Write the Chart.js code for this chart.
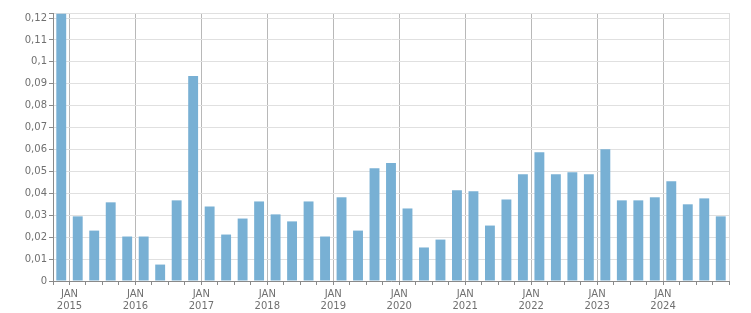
<!DOCTYPE html>
<html>
<head>
<meta charset="utf-8">
<script src="https://cdn.jsdelivr.net/npm/chart.js@4/dist/chart.umd.min.js"></script>
<style>
  html, body { margin: 0; padding: 0; background: #fff; }
  #wrap { width: 751px; height: 313px; position: relative; }
</style>
</head>
<body>
<div id="wrap"><canvas id="chart"></canvas></div>
<script>
const quarters = [
  "2014-Q4",
  "2015-Q1", "2015-Q2", "2015-Q3", "2015-Q4",
  "2016-Q1", "2016-Q2", "2016-Q3", "2016-Q4",
  "2017-Q1", "2017-Q2", "2017-Q3", "2017-Q4",
  "2018-Q1", "2018-Q2", "2018-Q3", "2018-Q4",
  "2019-Q1", "2019-Q2", "2019-Q3", "2019-Q4",
  "2020-Q1", "2020-Q2", "2020-Q3", "2020-Q4",
  "2021-Q1", "2021-Q2", "2021-Q3", "2021-Q4",
  "2022-Q1", "2022-Q2", "2022-Q3", "2022-Q4",
  "2023-Q1", "2023-Q2", "2023-Q3", "2023-Q4",
  "2024-Q1", "2024-Q2", "2024-Q3", "2024-Q4"
];

const values = [
  0.1220,
  0.0295, 0.0230, 0.0359, 0.0203,
  0.0203, 0.0075, 0.0368, 0.0936,
  0.0340, 0.0212, 0.0285, 0.0363,
  0.0304, 0.0272, 0.0363, 0.0203,
  0.0382, 0.0230, 0.0515, 0.0538,
  0.0331, 0.0153, 0.0189, 0.0414,
  0.0409, 0.0253, 0.0372, 0.0487,
  0.0588, 0.0487, 0.0496, 0.0487,
  0.0601, 0.0368, 0.0368, 0.0382,
  0.0455, 0.0350, 0.0377, 0.0295
];

// y tick values (hundredths) and the top of the scale
const yTicks = [0, 1, 2, 3, 4, 5, 6, 7, 8, 9, 10, 11, 12];
const yMax = 0.1223;
const monthLabel = "JAN";

const textColor = "#707070";
const font = { family: "'DejaVu Sans', Verdana, sans-serif", size: 10 };

const isYearStart = (i) => i !== undefined && quarters[i] && quarters[i].endsWith("Q1");

new Chart(document.getElementById("chart"), {
  type: "bar",
  data: {
    labels: quarters,
    datasets: [{
      data: values,
      backgroundColor: "#78b0d4",
      borderWidth: 0,
      barPercentage: 0.6,
      categoryPercentage: 1
    }]
  },
  options: {
    responsive: true,
    maintainAspectRatio: false,
    animation: false,
    layout: { padding: { top: 13, right: 22, left: 0, bottom: 0 } },
    plugins: {
      legend: { display: false },
      tooltip: { enabled: false }
    },
    scales: {
      x: {
        offset: true,
        grid: {
          offset: true,
          color: (ctx) => {
            if (ctx.index === undefined) return "#dddddd";
            return isYearStart(ctx.index) ? "#b8b8b8" : "rgba(0,0,0,0)";
          },
          tickColor: "#8a8a8a",
          tickLength: 4
        },
        border: { color: "#8a8a8a" },
        ticks: {
          autoSkip: false,
          maxRotation: 0,
          minRotation: 0,
          padding: 3,
          labelOffset: -8.24,
          color: textColor,
          font: font,
          callback: function (value, index) {
            if (!isYearStart(index)) return "";
            return [monthLabel, quarters[index].slice(0, 4)];
          }
        },
        afterFit: (scale) => { scale.height = 32; }
      },
      y: {
        min: 0,
        max: yMax,
        grid: {
          color: "#e0e0e0",
          tickColor: "#8a8a8a",
          tickLength: 4
        },
        border: { color: "#8a8a8a" },
        afterBuildTicks: (scale) => {
          scale.ticks = yTicks.map((v) => ({ value: v / 100 })).concat([{ value: yMax }]);
        },
        ticks: {
          padding: 2,
          color: textColor,
          font: font,
          callback: (value) => {
            if (value === yMax) return "";
            return String(Math.round(value * 100) / 100).replace(".", ",");
          }
        },
        afterFit: (scale) => { scale.width = 53; }
      }
    }
  }
});
</script>
</body>
</html>
